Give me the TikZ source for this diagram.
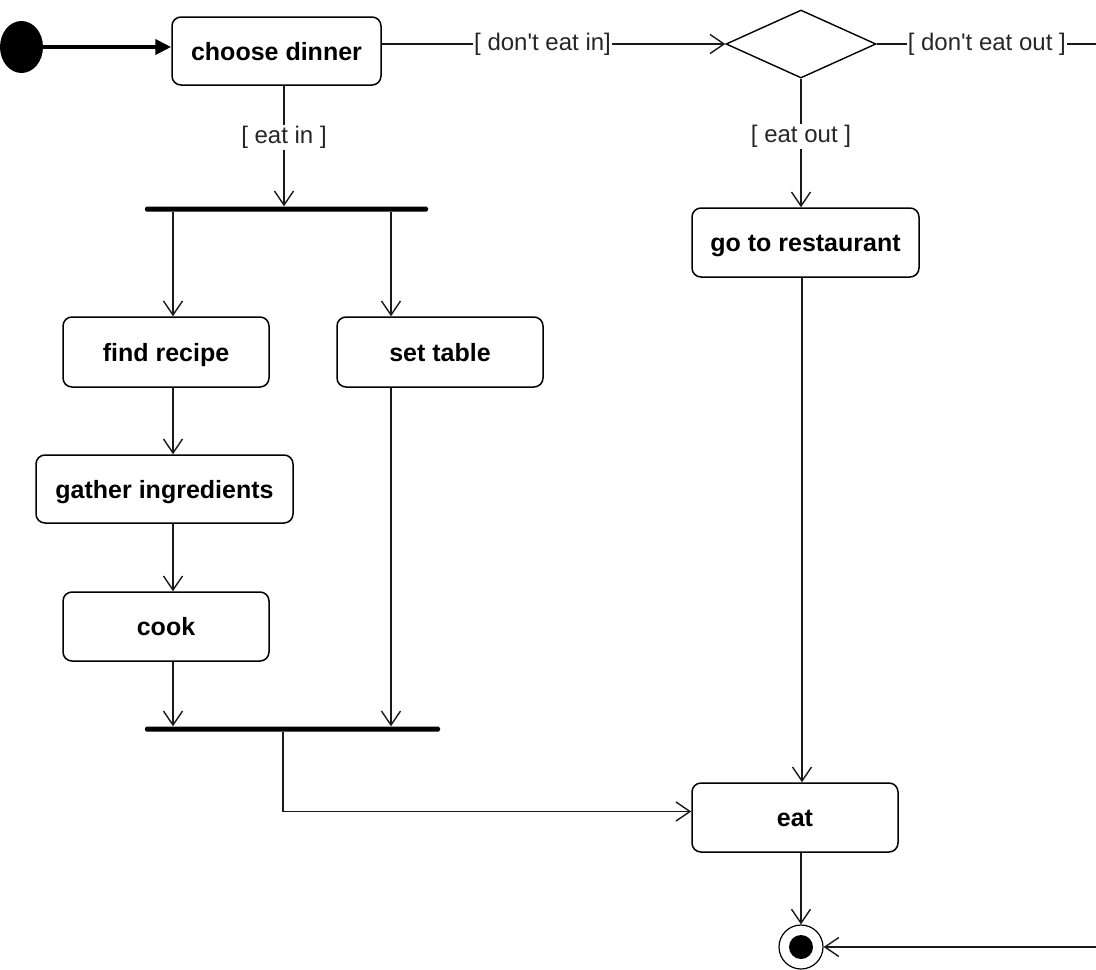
\documentclass[tikz,border=0pt]{standalone}
\usepackage{fontspec}
\setmainfont{Liberation Sans}
\newfontfamily\guardfont{Liberation Sans}
\usetikzlibrary{arrows.meta,shapes.geometric}

\tikzset{
  activity/.style={draw=black, line width=1.5pt, rounded corners=9pt,
    inner sep=0pt, text height=18pt, text depth=0pt,
    font=\fontsize{25}{30}\selectfont\bfseries, text=black},
  bar/.style={fill=black, draw=none, inner sep=0pt, minimum height=5pt, rounded corners=1.5pt},
  flow/.style={draw=black!90, line width=1.5pt,
    -{Straight Barb[length=14pt,width=19pt,line width=1.4pt]}},
  guard/.style={fill=white, inner sep=1pt, text=black!85,
    font=\guardfont\fontsize{24}{28}\selectfont},
}

\begin{document}
\begin{tikzpicture}[x=1pt, y=-1pt]
  \useasboundingbox (0,0) rectangle (1096,970);
  \clip (0,0) rectangle (1096,970);

  % start and end markers
  \node[ellipse, fill=black, inner sep=0pt, minimum width=43pt, minimum height=52pt] (init) at (21.5,47) {};
  \node[circle, draw=black, line width=1.2pt, inner sep=0pt, minimum size=44pt] (final) at (801,947) {};
  \fill[black] (final.center) circle (12pt);

  % activities
  \node[activity, minimum width=209pt, minimum height=68pt] (cd)   at (276.5,51)  {choose dinner};
  \node[activity, minimum width=227pt, minimum height=69pt] (rest) at (805.5,242.5) {go to restaurant};
  \node[activity, minimum width=206pt, minimum height=70pt] (fr)   at (166,352)   {find recipe};
  \node[activity, minimum width=206pt, minimum height=70pt] (st)   at (440,352)   {set table};
  \node[activity, minimum width=257pt, minimum height=68pt] (gi)   at (164.5,489) {gather ingredients};
  \node[activity, minimum width=206pt, minimum height=69pt] (cook) at (166,626.5) {cook};
  \node[activity, minimum width=206pt, minimum height=69pt] (eat)  at (795,817.5) {eat};

  % decision
  \node[diamond, draw=black, line width=1.4pt, inner sep=0pt,
        minimum width=150pt, minimum height=68pt] (dec) at (801,44) {};

  % fork and join bars
  \node[bar, minimum width=283pt] (fork) at (286.5,209) {};
  \node[bar, minimum width=295pt] (join) at (292.5,729) {};

  % column positions of the connectors
  \coordinate (xin)  at (284,0);
  \coordinate (xfr)  at (173,0);
  \coordinate (xst)  at (391,0);
  \coordinate (xout) at (802,0);
  \coordinate (xj)   at (283,0);
  \coordinate (edge) at (1106,44);

  % initial transition
  \draw[line width=4pt, -{Triangle[length=16pt,width=15pt]}] (init.east) -- (cd.west |- init.east);

  % choose dinner branches
  \draw[flow] (cd.south -| xin) -- node[guard, pos=0.43] {[ eat in ]} (fork.north -| xin);
  \draw[flow] (cd.east |- dec.west) -- node[guard, pos=0.468] {[ don't eat in]} (dec.west);

  % decision branches
  \draw[flow] (dec.south) -- node[guard, pos=0.45] {[ eat out ]} (rest.north -| dec.south);
  \draw[flow] (dec.east) -- node[guard, pos=0.48] {[ don't eat out ]} (edge) |- (final.east);

  % fork outputs
  \draw[flow] (fork.south -| xfr) -- (fr.north -| xfr);
  \draw[flow] (fork.south -| xst) -- (st.north -| xst);

  % cooking chain
  \draw[flow] (fr.south -| xfr) -- (gi.north -| xfr);
  \draw[flow] (gi.south -| xfr) -- (cook.north -| xfr);
  \draw[flow] (cook.south -| xfr) -- (join.north -| xfr);
  \draw[flow] (st.south -| xst) -- (join.north -| xst);

  % to eating
  \draw[flow] (join.south -| xj) |- ([yshift=6pt]eat.west);
  \draw[flow] (rest.south -| xout) -- (eat.north -| xout);
  \draw[flow] (eat.south -| final.north) -- (final.north);
\end{tikzpicture}
\end{document}
